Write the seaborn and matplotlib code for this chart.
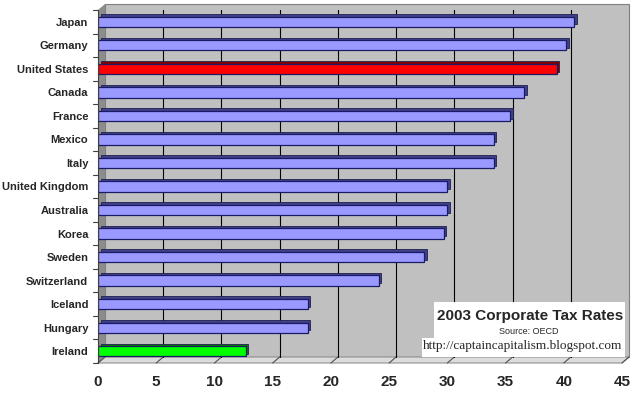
import matplotlib
matplotlib.use("Agg")
import matplotlib.pyplot as plt
import matplotlib.transforms as mtransforms
from matplotlib.patches import Polygon, Rectangle
import seaborn as sns
import pandas as pd

# data (2003 corporate tax rates, %)
countries = ["Japan", "Germany", "United States", "Canada", "France", "Mexico", "Italy",
             "United Kingdom", "Australia", "Korea", "Sweden", "Switzerland", "Iceland",
             "Hungary", "Ireland"]
rates = [40.9, 40.2, 39.4, 36.6, 35.4, 34.0, 34.0, 30.0, 30.0, 29.7, 28.0, 24.1, 18.0, 18.0, 12.7]
bar_colors = ["#9999FF"] * 15
bar_colors[2] = "#FF0000"
bar_colors[14] = "#00FF00"
shade_colors = ["#404088"] * 15
shade_colors[2] = "#800000"
shade_colors[14] = "#008000"
x_ticks = [0, 5, 10, 15, 20, 25, 30, 35, 40, 45]

df = pd.DataFrame({"Country": countries, "Rate": rates})

sns.set_theme(style="white")
plt.rcParams['font.family'] = ['Liberation Sans', 'DejaVu Sans']

fig = plt.figure(figsize=(6.4, 3.98), dpi=100)
ax = fig.add_axes([98 / 640, 35 / 398, 524 / 640, 353 / 398])
ax.set_facecolor("none")

# bars (front face) through seaborn
sns.barplot(data=df, y="Country", x="Rate", hue="Country", palette=bar_colors,
            legend=False, width=0.44, saturation=1, edgecolor="#1A1A66", linewidth=0.9,
            ax=ax, zorder=3)
ax.set_xlim(0, 45)
ax.set_ylim(14.5, -0.5)

# depth offsets of the 3-D look (inches, 100 dpi)
dx, dy = 7 / 100, 6 / 100
back = mtransforms.ScaledTranslation(dx, dy, fig.dpi_scale_trans)
shade = mtransforms.ScaledTranslation(2.5 / 100, 2.5 / 100, fig.dpi_scale_trans)

# dark extrusion behind each bar
shadow = ax.barh(range(len(rates)), rates, height=0.44, color=shade_colors,
                 edgecolor="#202050", lw=0.6, zorder=2)
for b in shadow:
    b.set_transform(ax.transData + shade)

# back wall, side wall and floor (pixel coords, drawn inside the axes below the bars)
fig.canvas.draw()
trf = ax.transAxes.transform
trb = (ax.transAxes + back).transform
ident = mtransforms.IdentityTransform()
wall = Rectangle((0, 0), 1, 1, transform=ax.transAxes + back, facecolor="#C0C0C0",
                 edgecolor="#808080", lw=0.8, zorder=0, clip_on=False)
ax.add_patch(wall)
side_pts = [trf((0, 0)), trf((0, 1)), trb((0, 1)), trb((0, 0))]
ax.add_patch(Polygon(side_pts, closed=True, transform=ident, facecolor="#8C8C8C",
                     edgecolor="none", zorder=0.5, clip_on=False))
floor_pts = [trf((0, 0)), trf((1, 0)), trb((1, 0)), trb((0, 0))]
ax.add_patch(Polygon(floor_pts, closed=True, transform=ident, facecolor="#DCDCDC",
                     edgecolor="#909090", lw=0.8, zorder=0.6, clip_on=False))

# gridlines on the back wall, with short diagonal ticks across the floor
for t in x_ticks[1:-1]:
    ln = ax.axvline(t, color="black", lw=0.8, zorder=1)
    ln.set_transform(ln.get_transform() + back)
for t in x_ticks:
    p0 = ax.transData.transform((t, 14.5))
    ax.add_line(plt.Line2D([p0[0], p0[0] + dx * 100], [p0[1], p0[1] + dy * 100],
                           transform=ident, color="#505050", lw=0.8, zorder=0.7,
                           clip_on=False))

ax.set_xticks(x_ticks)
ax.set_xticklabels([str(t) for t in x_ticks], fontsize=11, fontweight="bold")
ax.set_yticks(range(15))
ax.set_yticklabels(countries, fontsize=8, fontweight="bold")
ax.tick_params(axis="y", length=0, pad=7)
ax.tick_params(axis="x", length=0, pad=9)
ax.set_xlabel("")
ax.set_ylabel("")
for s in ["top", "right", "bottom"]:
    ax.spines[s].set_visible(False)
ax.spines["left"].set_color("#404040")
ax.spines["left"].set_linewidth(0.8)
ax.spines["left"].set_zorder(4)
# tick marks between categories on the category axis
for k in range(16):
    ax.plot([-0.45, 0], [k - 0.5, k - 0.5], color="#404040", lw=0.8, clip_on=False,
            zorder=4)

# title box
for (x0, y0, w, h) in [(434, 302, 191, 37), (422, 338, 203, 19)]:
    fig.patches.append(Rectangle((x0 / 640, 1 - (y0 + h) / 398), w / 640, h / 398,
                                 transform=fig.transFigure, facecolor="white",
                                 edgecolor="none", zorder=5))
fig.text(530 / 640, 1 - 316 / 398, "2003 Corporate Tax Rates", ha="center", va="center",
         fontsize=11, fontweight="bold", zorder=6)
fig.text(529 / 640, 1 - 331 / 398, "Source: OECD", ha="center", va="center",
         fontsize=6.5, zorder=6)
fig.text(523 / 640, 1 - 346 / 398, "http://captaincapitalism.blogspot.com", ha="center",
         va="center", fontsize=9.5, family=["Liberation Serif", "DejaVu Serif"], zorder=6)

fig.savefig("out.png", dpi=100, facecolor="white")
